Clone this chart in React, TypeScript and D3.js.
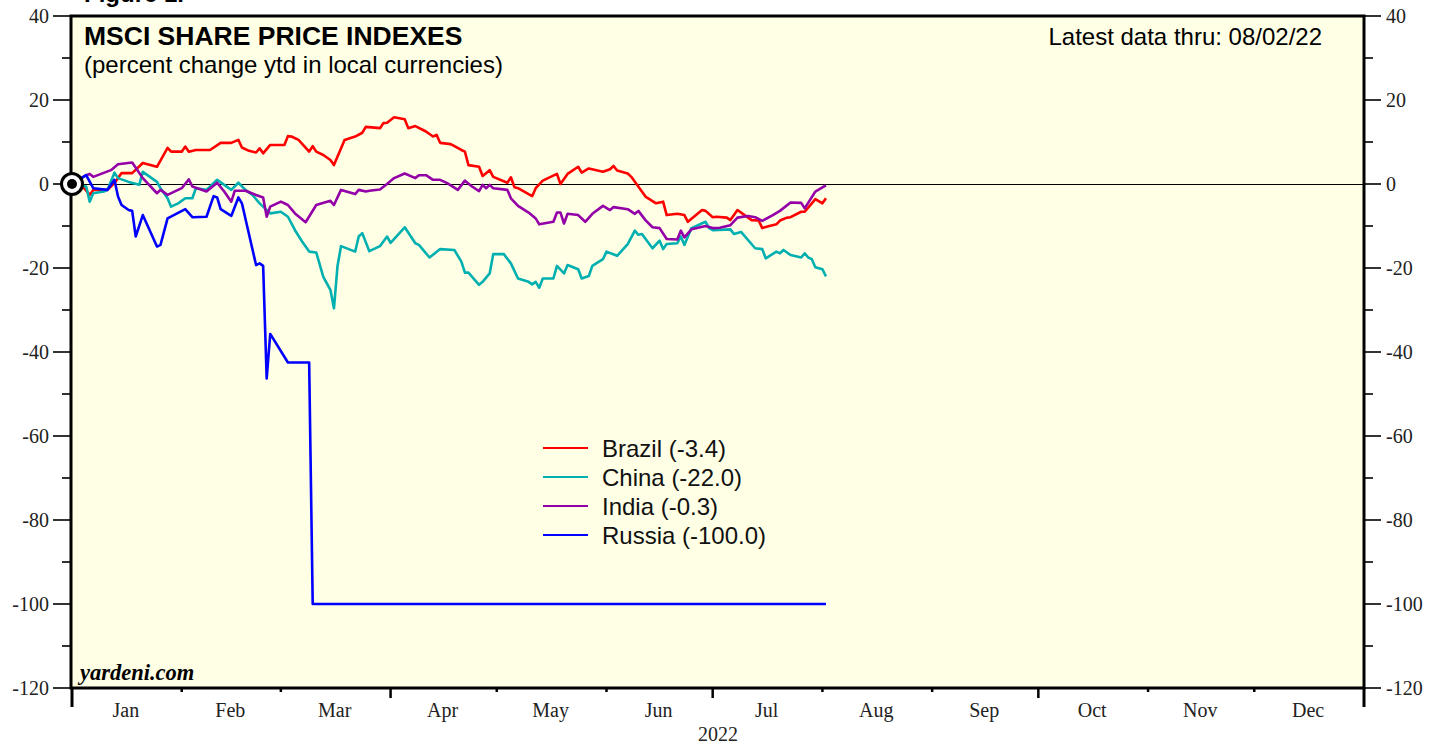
import * as d3 from "d3";

// ---- data (percent change ytd) ----
type Pt = [string, number];

const brazil: Pt[] = [
  ["2022-01-01", 0], ["2022-01-04", -0.5], ["2022-01-06", -2.6], ["2022-01-07", -1.4],
  ["2022-01-11", -1.4], ["2022-01-13", 0.2], ["2022-01-15", 2.6], ["2022-01-18", 2.6],
  ["2022-01-21", 5.0], ["2022-01-25", 4.1], ["2022-01-28", 8.6], ["2022-01-29", 7.7],
  ["2022-02-01", 7.7], ["2022-02-02", 8.9], ["2022-02-03", 7.7], ["2022-02-05", 8.1],
  ["2022-02-09", 8.1], ["2022-02-12", 9.8], ["2022-02-15", 9.8], ["2022-02-17", 10.5],
  ["2022-02-18", 8.7], ["2022-02-20", 7.9], ["2022-02-22", 7.5], ["2022-02-23", 8.5],
  ["2022-02-24", 7.3], ["2022-02-26", 9.3], ["2022-03-02", 9.3], ["2022-03-03", 11.4],
  ["2022-03-04", 11.3], ["2022-03-06", 10.5], ["2022-03-09", 7.7], ["2022-03-10", 9.0],
  ["2022-03-11", 7.7], ["2022-03-13", 6.9], ["2022-03-15", 5.7], ["2022-03-16", 4.5],
  ["2022-03-19", 10.5], ["2022-03-22", 11.3], ["2022-03-24", 12.2], ["2022-03-25", 13.6],
  ["2022-03-29", 13.3], ["2022-03-30", 14.5], ["2022-03-31", 14.6], ["2022-04-02", 15.9],
  ["2022-04-05", 15.4], ["2022-04-06", 13.3], ["2022-04-08", 13.8], ["2022-04-11", 12.5],
  ["2022-04-13", 11.3], ["2022-04-14", 11.7], ["2022-04-15", 9.8], ["2022-04-18", 9.5],
  ["2022-04-21", 8.1], ["2022-04-22", 7.7], ["2022-04-23", 4.5], ["2022-04-26", 4.1],
  ["2022-04-27", 1.9], ["2022-04-29", 3.3], ["2022-04-30", 1.7], ["2022-05-04", 0.3],
  ["2022-05-05", 1.6], ["2022-05-06", -0.8], ["2022-05-07", -1.0], ["2022-05-11", -2.9],
  ["2022-05-12", -1.0], ["2022-05-14", 0.8], ["2022-05-18", 2.4], ["2022-05-19", 0],
  ["2022-05-21", 2.4], ["2022-05-24", 4.1], ["2022-05-25", 2.7], ["2022-05-27", 3.7],
  ["2022-05-31", 2.9], ["2022-06-02", 3.5], ["2022-06-03", 4.3], ["2022-06-04", 3.2],
  ["2022-06-07", 2.5], ["2022-06-08", 1.7], ["2022-06-11", -1.8], ["2022-06-12", -3.0],
  ["2022-06-15", -4.6], ["2022-06-17", -4.2], ["2022-06-18", -7.4], ["2022-06-21", -7.1],
  ["2022-06-23", -7.4], ["2022-06-24", -9.0], ["2022-06-28", -6.2], ["2022-06-29", -6.4],
  ["2022-07-01", -7.9], ["2022-07-02", -7.8], ["2022-07-05", -8.0], ["2022-07-06", -8.6],
  ["2022-07-08", -6.2], ["2022-07-10", -7.4], ["2022-07-12", -8.6], ["2022-07-14", -8.7],
  ["2022-07-15", -10.5], ["2022-07-17", -10.0], ["2022-07-19", -9.6], ["2022-07-20", -8.7],
  ["2022-07-22", -8.0], ["2022-07-23", -7.9], ["2022-07-26", -6.6], ["2022-07-27", -6.6],
  ["2022-07-29", -4.6], ["2022-07-30", -3.6], ["2022-08-01", -4.6], ["2022-08-02", -3.4],
];

const china: Pt[] = [
  ["2022-01-01", 0], ["2022-01-05", -0.6], ["2022-01-06", -4.2], ["2022-01-07", -2.2],
  ["2022-01-10", -1.8], ["2022-01-11", -1.4], ["2022-01-13", 2.7], ["2022-01-14", 1.4],
  ["2022-01-17", 0.5], ["2022-01-20", -0.2], ["2022-01-21", 2.9], ["2022-01-25", 0.5],
  ["2022-01-26", -1.0], ["2022-01-28", -3.4], ["2022-01-29", -5.4], ["2022-01-31", -4.6],
  ["2022-02-02", -3.4], ["2022-02-04", -3.4], ["2022-02-05", -1.0], ["2022-02-08", -1.4],
  ["2022-02-11", 1.0], ["2022-02-13", -0.2], ["2022-02-15", -1.4], ["2022-02-17", 0.3],
  ["2022-02-19", -1.4], ["2022-02-21", -2.6], ["2022-02-23", -4.6], ["2022-02-24", -5.4],
  ["2022-02-26", -7.0], ["2022-03-01", -6.6], ["2022-03-03", -7.8], ["2022-03-05", -11.0],
  ["2022-03-07", -13.7], ["2022-03-09", -16.1], ["2022-03-11", -16.3], ["2022-03-13", -22.1],
  ["2022-03-15", -25.2], ["2022-03-16", -29.6], ["2022-03-17", -19.6], ["2022-03-18", -14.8],
  ["2022-03-22", -16.1], ["2022-03-23", -12.5], ["2022-03-24", -11.7], ["2022-03-26", -16.0],
  ["2022-03-29", -14.8], ["2022-03-31", -12.5], ["2022-04-01", -14.0], ["2022-04-05", -10.3],
  ["2022-04-08", -14.1], ["2022-04-09", -14.5], ["2022-04-12", -17.5], ["2022-04-15", -15.5],
  ["2022-04-19", -15.7], ["2022-04-21", -18.5], ["2022-04-22", -21.1], ["2022-04-23", -21.1],
  ["2022-04-26", -24.0], ["2022-04-27", -23.3], ["2022-04-29", -21.3], ["2022-04-30", -16.7],
  ["2022-05-03", -16.7], ["2022-05-05", -18.9], ["2022-05-07", -22.5], ["2022-05-10", -23.3],
  ["2022-05-11", -23.9], ["2022-05-12", -23.3], ["2022-05-13", -24.7], ["2022-05-14", -22.5],
  ["2022-05-17", -22.5], ["2022-05-18", -19.5], ["2022-05-20", -21.3], ["2022-05-21", -19.3],
  ["2022-05-24", -20.3], ["2022-05-25", -22.5], ["2022-05-27", -21.9], ["2022-05-28", -19.5],
  ["2022-05-31", -17.9], ["2022-06-01", -16.1], ["2022-06-04", -17.1], ["2022-06-07", -14.3],
  ["2022-06-09", -11.1], ["2022-06-10", -12.1], ["2022-06-11", -11.9], ["2022-06-14", -15.3],
  ["2022-06-16", -13.5], ["2022-06-17", -15.5], ["2022-06-18", -14.3], ["2022-06-21", -14.1],
  ["2022-06-22", -12.5], ["2022-06-23", -14.5], ["2022-06-25", -10.5], ["2022-06-29", -9.0],
  ["2022-06-30", -10.5], ["2022-07-01", -11.0], ["2022-07-06", -10.8], ["2022-07-07", -11.9],
  ["2022-07-09", -11.4], ["2022-07-13", -15.3], ["2022-07-15", -15.5], ["2022-07-16", -17.7],
  ["2022-07-19", -16.1], ["2022-07-20", -16.5], ["2022-07-21", -15.7], ["2022-07-23", -16.9],
  ["2022-07-26", -17.5], ["2022-07-27", -16.5], ["2022-07-28", -17.5], ["2022-07-29", -17.9],
  ["2022-07-30", -19.8], ["2022-08-01", -20.3], ["2022-08-02", -22.0],
];

const india: Pt[] = [
  ["2022-01-01", 0], ["2022-01-05", 2.1], ["2022-01-06", 2.4], ["2022-01-07", 1.7],
  ["2022-01-12", 3.3], ["2022-01-14", 4.7], ["2022-01-18", 5.1], ["2022-01-21", 1.4],
  ["2022-01-25", -2.2], ["2022-01-26", -1.4], ["2022-01-28", -2.6], ["2022-02-01", -1.0],
  ["2022-02-03", 1.1], ["2022-02-04", -0.6], ["2022-02-08", -1.8], ["2022-02-11", 0.3],
  ["2022-02-13", -1.8], ["2022-02-15", -4.2], ["2022-02-16", -1.6], ["2022-02-19", -1.6],
  ["2022-02-22", -2.6], ["2022-02-24", -3.2], ["2022-02-25", -7.8], ["2022-02-26", -5.4],
  ["2022-03-01", -4.2], ["2022-03-03", -5.0], ["2022-03-05", -7.0], ["2022-03-08", -9.1],
  ["2022-03-11", -5.0], ["2022-03-15", -4.0], ["2022-03-16", -5.0], ["2022-03-18", -1.4],
  ["2022-03-22", -2.4], ["2022-03-23", -1.4], ["2022-03-25", -1.8], ["2022-03-26", -1.6],
  ["2022-03-29", -1.3], ["2022-03-31", 0], ["2022-04-02", 1.4], ["2022-04-05", 2.5],
  ["2022-04-08", 1.4], ["2022-04-09", 2.1], ["2022-04-11", 2.1], ["2022-04-13", 1.0],
  ["2022-04-15", 1.0], ["2022-04-17", 0.2], ["2022-04-20", -1.4], ["2022-04-22", 0.8],
  ["2022-04-24", -0.6], ["2022-04-26", -1.7], ["2022-04-27", -0.2], ["2022-04-28", -1.0],
  ["2022-04-29", -0.2], ["2022-04-30", -1.0], ["2022-05-04", -1.4], ["2022-05-05", -3.4],
  ["2022-05-07", -5.2], ["2022-05-10", -6.8], ["2022-05-12", -8.2], ["2022-05-13", -9.6],
  ["2022-05-17", -9.0], ["2022-05-18", -6.8], ["2022-05-19", -6.8], ["2022-05-20", -9.4],
  ["2022-05-21", -7.1], ["2022-05-24", -7.4], ["2022-05-26", -9.0], ["2022-05-28", -7.1],
  ["2022-05-31", -5.2], ["2022-06-02", -6.2], ["2022-06-03", -5.5], ["2022-06-07", -6.0],
  ["2022-06-09", -7.1], ["2022-06-10", -6.4], ["2022-06-12", -8.6], ["2022-06-14", -10.3],
  ["2022-06-16", -10.5], ["2022-06-18", -13.1], ["2022-06-21", -13.2], ["2022-06-22", -11.1],
  ["2022-06-23", -12.7], ["2022-06-25", -10.8], ["2022-06-29", -10.0], ["2022-07-01", -10.5],
  ["2022-07-03", -10.4], ["2022-07-06", -9.8], ["2022-07-08", -8.0], ["2022-07-11", -7.6],
  ["2022-07-13", -7.9], ["2022-07-15", -8.8], ["2022-07-18", -7.4], ["2022-07-20", -6.4],
  ["2022-07-23", -4.4], ["2022-07-26", -4.5], ["2022-07-27", -5.8], ["2022-07-30", -1.8],
  ["2022-08-01", -0.8], ["2022-08-02", -0.3],
];

const russia: Pt[] = [
  ["2022-01-01", 0], ["2022-01-05", 2.1], ["2022-01-07", -1.0], ["2022-01-11", -1.4],
  ["2022-01-13", 1.0], ["2022-01-14", -3.0], ["2022-01-15", -5.0], ["2022-01-17", -6.2],
  ["2022-01-18", -6.4], ["2022-01-19", -12.5], ["2022-01-21", -7.4], ["2022-01-25", -14.9],
  ["2022-01-26", -14.5], ["2022-01-28", -8.2], ["2022-02-02", -6.0], ["2022-02-04", -7.9],
  ["2022-02-08", -7.8], ["2022-02-10", -2.9], ["2022-02-11", -3.2], ["2022-02-12", -6.0],
  ["2022-02-15", -7.6], ["2022-02-17", -3.2], ["2022-02-18", -4.6], ["2022-02-22", -19.3],
  ["2022-02-23", -18.9], ["2022-02-24", -19.5], ["2022-02-25", -46.3], ["2022-02-26", -35.7],
  ["2022-03-03", -42.5], ["2022-03-09", -42.5], ["2022-03-10", -100], ["2022-08-02", -100],
];

const seriesNames = ["Brazil", "China", "India", "Russia"];
const seriesData = [brazil, china, india, russia];
const seriesColors = ["#ff0000", "#00b0b0", "#9400a8", "#0000ff"];
const latestValues = ["-3.4", "-22.0", "-0.3", "-100.0"];

const yTicks = [40, 20, 0, -20, -40, -60, -80, -100, -120];
const yearLabel = "2022";

const serif = "'Liberation Serif', 'Times New Roman', serif";
const sans = "'Liberation Sans', Arial, sans-serif";

const App = () => {
  const W = 1442;
  const H = 747;
  const left = 72;
  const right = 1364;
  const top = 16;
  const bottom = 688;

  const parse = d3.utcParse("%Y-%m-%d");
  const start = new Date(Date.UTC(2022, 0, 1));
  const end = new Date(Date.UTC(2023, 0, 1));

  const x = d3.scaleUtc().domain([start, end]).range([left, right]);
  const y = d3.scaleLinear().domain([-120, 40]).range([bottom, top]);

  const line = d3
    .line<Pt>()
    .x((d) => x(parse(d[0]) as Date))
    .y((d) => y(d[1]));

  const months = d3.utcMonth.range(start, end);
  const minorY = d3.range(-120, 41, 10);

  return (
    <div style={{ position: "absolute", left: 0, top: 0 }}>
      <svg width={W} height={H} style={{ display: "block", background: "#fff" }}>
        <text x={84} y={2} fontFamily={sans} fontWeight="bold" fontSize={24}>
          Figure 1.
        </text>

        {/* plot background */}
        <rect x={left} y={top} width={right - left} height={bottom - top} fill="#ffffe5" />

        {/* zero line */}
        <line
          x1={left}
          x2={right}
          y1={y(0) + 0.5}
          y2={y(0) + 0.5}
          stroke="#000"
          strokeWidth={1}
          shapeRendering="crispEdges"
        />

        {/* series */}
        {seriesData.map((s, i) => (
          <path
            key={seriesNames[i]}
            d={line(s) ?? ""}
            fill="none"
            stroke={seriesColors[i]}
            strokeWidth={2.6}
            strokeLinejoin="round"
          />
        ))}

        {/* frame */}
        <rect
          x={left - 1}
          y={top}
          width={right - left + 1}
          height={bottom - top}
          fill="none"
          stroke="#000"
          strokeWidth={3}
        />

        {/* left / right y ticks */}
        {minorY.map((v) => {
          const major = v % 20 === 0;
          return (
            <g key={v}>
              <line x1={left - (major ? 19 : 10)} x2={left} y1={y(v)} y2={y(v)} stroke="#000" strokeWidth={1.6} />
              <line x1={right} x2={right + (major ? 17 : 9)} y1={y(v)} y2={y(v)} stroke="#000" strokeWidth={1.6} />
            </g>
          );
        })}
        {yTicks.map((v) => (
          <g key={"l" + v} fontFamily={serif} fontSize={20} fill="#222">
            <text x={49} y={y(v) + 7} textAnchor="end">
              {v}
            </text>
            <text x={1386} y={y(v) + 7} textAnchor="start">
              {v}
            </text>
          </g>
        ))}

        {/* x ticks */}
        {months.concat([end]).map((m, i) => {
          const mo = m.getUTCMonth();
          const isYear = i === 0 || i === 12;
          const len = isYear ? 19 : mo % 3 === 0 ? 10 : 4;
          return (
            <line
              key={"t" + i}
              x1={x(m)}
              x2={x(m)}
              y1={bottom}
              y2={bottom + len}
              stroke="#000"
              strokeWidth={isYear ? 3 : 2.5}
            />
          );
        })}
        {months.map((m) => {
          const mid = new Date((m.getTime() + d3.utcMonth.offset(m, 1).getTime()) / 2);
          return (
            <text
              key={"m" + m.getTime()}
              x={x(mid) - 1}
              y={717}
              textAnchor="middle"
              fontFamily={serif}
              fontSize={20}
              fill="#222"
            >
              {d3.utcFormat("%b")(m)}
            </text>
          );
        })}
        <text x={(left + right) / 2} y={741} textAnchor="middle" fontFamily={serif} fontSize={20} fill="#222">
          {yearLabel}
        </text>

        {/* titles */}
        <text x={84} y={45} fontFamily={sans} fontWeight="bold" fontSize={26.5}>
          MSCI SHARE PRICE INDEXES
        </text>
        <text x={84} y={73} fontFamily={sans} fontSize={24}>
          (percent change ytd in local currencies)
        </text>
        <text x={1322} y={45} textAnchor="end" fontFamily={sans} fontSize={24}>
          Latest data thru: 08/02/22
        </text>
        <text x={80} y={680} fontFamily={serif} fontWeight="bold" fontStyle="italic" fontSize={22.5}>
          yardeni.com
        </text>

        {/* legend */}
        {seriesNames.map((n, i) => {
          const ly = 448 + i * 29;
          return (
            <g key={"lg" + n}>
              <line x1={543} x2={588} y1={ly} y2={ly} stroke={seriesColors[i]} strokeWidth={2.2} />
              <text x={602} y={ly + 8.5} fontFamily={sans} fontSize={24} fill="#111">
                {`${n} (${latestValues[i]})`}
              </text>
            </g>
          );
        })}

        {/* start marker */}
        <circle cx={x(start)} cy={y(0)} r={10.5} fill="#fff" stroke="#000" strokeWidth={3} />
        <circle cx={x(start)} cy={y(0)} r={5} fill="#000" />
      </svg>
    </div>
  );
};

export default App;
